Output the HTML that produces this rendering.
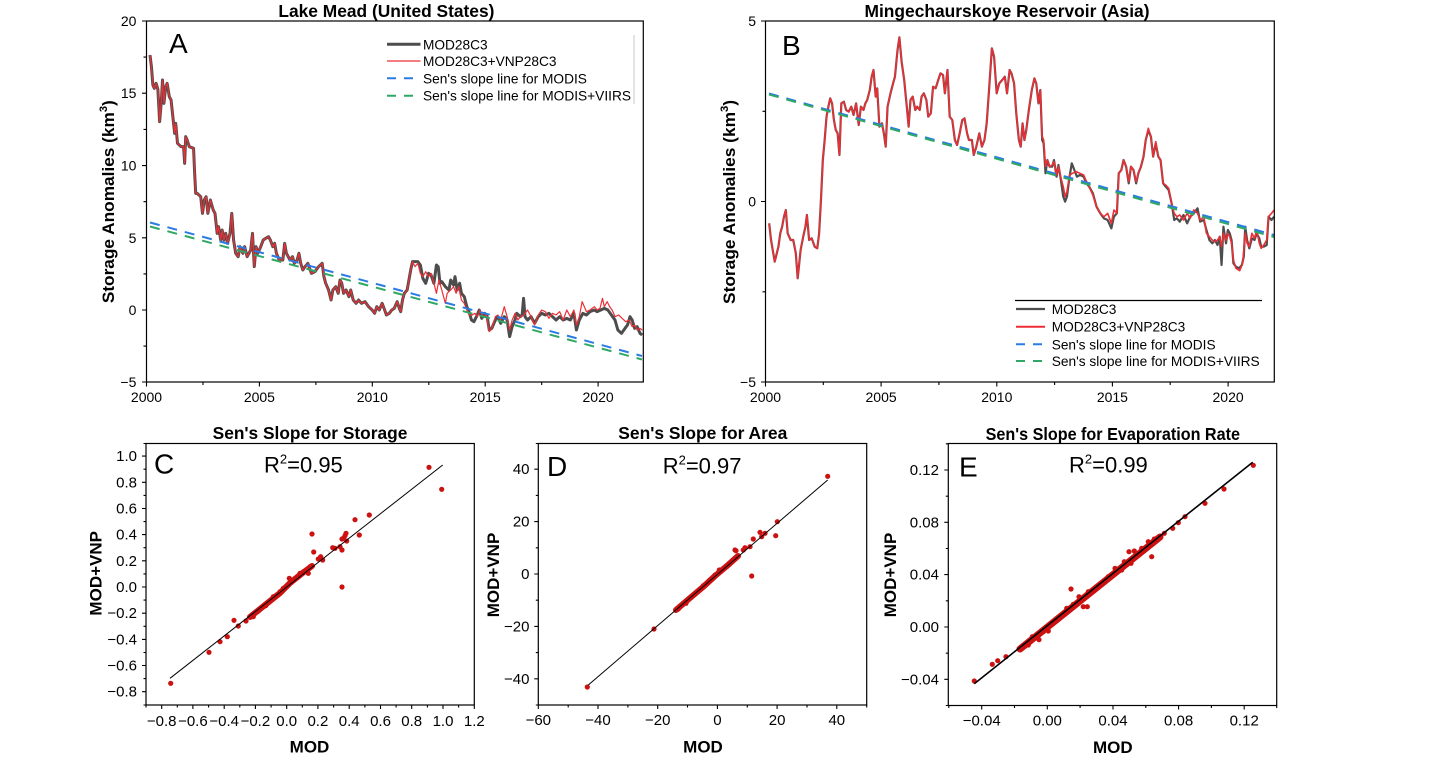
<!DOCTYPE html>
<html><head><meta charset="utf-8"><style>
html,body{margin:0;padding:0;background:#fff;}
svg{display:block;font-family:"Liberation Sans",Arial,sans-serif;}
.t{font-size:14px;fill:#000;}
.tb{font-size:15px;fill:#000;}
.ttl{font-size:17.3px;font-weight:bold;fill:#000;}
.lab{font-size:17px;font-weight:bold;fill:#000;}
.lg{font-size:13.7px;fill:#000;}
.big{font-size:28px;fill:#000;}
.r2{font-size:22px;fill:#000;}
</style></head><body>
<svg width="1430" height="764" viewBox="0 0 1430 764" xmlns="http://www.w3.org/2000/svg">
<rect width="1430" height="764" fill="#fff"/>

<!-- ================= PANEL A ================= -->
<text class="ttl" x="386.4" y="17" text-anchor="middle" textLength="216" lengthAdjust="spacingAndGlyphs">Lake Mead (United States)</text>
<g fill="none" stroke-linejoin="round">
<g transform="translate(90,0) scale(0.35714,0.33333)">
<polyline vector-effect="non-scaling-stroke" stroke="#4d4d4d" stroke-width="3" points="168,165 172,200 176,255 180,265 185,250 190,268 195,365 200,300 203,240 207,310 212,260 216,250 222,290 227,300 232,350 237,400 240,370 245,430 255,440 262,440 265,490 268,410 272,420 278,440 290,445 293,520 296,580 300,580 310,590 315,640 320,600 325,590 330,640 337,600 345,630 350,640 356,700 360,680 366,720 370,690 375,720 380,700 385,730 392,700 397,640 402,720 408,760 415,770 420,740 428,760 433,740 440,770 450,750 455,700 460,800 465,740 470,760 478,740 485,720 492,715 500,710 505,720 512,740 517,730 522,760 530,780 540,780 545,730 550,760 560,780 567,770 572,790 580,780 585,760 590,790 596,810 602,800 610,790 620,820 630,815 640,800 650,790 655,830 660,850 668,870 675,900 680,870 688,860 695,880 700,840 705,850 710,880 717,870 725,890 730,870 737,900 745,910 752,900 760,910 770,905 780,920 790,930 797,940 803,920 810,930 818,910 825,930 830,945 838,940 845,930 852,925 860,905 866,925 870,935 875,900 880,880 888,870 893,840 898,810 903,785 910,785 918,785 925,795 932,835 940,850 948,820 955,825 963,850 970,795 975,800 980,850 985,845 995,860 1005,870 1010,840 1018,855 1022,830 1028,870 1035,850 1040,880 1048,890 1055,920 1060,930 1068,960 1075,965 1082,950 1090,930 1097,955 1105,940 1112,950 1118,990 1125,985 1135,960 1142,950 1150,970 1160,950 1168,960 1175,1010 1182,980 1190,960 1195,940 1205,950 1210,945 1214,895 1218,950 1225,960 1235,950 1245,970 1255,950 1265,940 1275,945 1285,940 1295,950 1305,960 1315,950 1325,960 1335,955 1345,960 1355,940 1362,990 1370,960 1380,940 1390,945 1400,935 1412,930 1420,935 1430,930 1440,925 1450,930 1460,945 1470,960 1478,990 1488,1000 1498,985 1505,975 1512,950 1518,960 1525,985 1532,980 1540,1000 1546,1005"/>
<polyline vector-effect="non-scaling-stroke" stroke="#ec2f35" stroke-width="1.2" points="168,165 172,200 176,255 180,265 185,250 190,268 195,365 200,300 203,240 207,310 212,260 216,250 222,290 227,300 232,350 237,400 240,370 245,430 255,440 262,440 265,490 268,410 272,420 278,440 290,445 293,520 296,580 300,580 310,590 315,640 320,600 325,590 330,640 337,600 345,630 350,640 356,700 360,680 366,720 370,690 375,720 380,700 385,730 392,700 397,640 402,720 408,760 415,770 420,740 428,760 433,740 440,770 450,750 455,700 460,800 465,740 470,760 478,740 485,720 492,715 500,710 505,720 512,740 517,730 522,760 530,780 540,780 545,730 550,760 560,780 567,770 572,790 580,780 585,760 590,790 596,810 602,800 610,790 620,820 630,815 640,800 650,790 655,830 660,850 668,870 675,900 680,870 688,860 695,880 700,840 705,850 710,880 717,870 725,890 730,870 737,900 745,910 752,900 760,910 770,905 780,920 790,930 797,940 803,920 810,930 818,910 825,930 830,945 838,940 845,930 852,925 860,905 866,925 870,935 875,900 880,880 888,870 893,840 898,810 903,785 910,800 918,790 925,820 932,830 940,815 948,830 955,820 963,850 970,880 977,840 985,870 995,910 1000,880 1010,870 1018,860 1025,880 1032,860 1040,900 1048,910 1055,930 1062,945 1070,945 1078,940 1085,950 1092,930 1100,950 1110,945 1118,995 1125,985 1135,950 1142,945 1150,960 1160,920 1168,950 1175,990 1182,960 1190,940 1198,960 1205,950 1215,945 1225,930 1235,950 1245,975 1255,945 1265,930 1275,935 1285,955 1295,940 1305,945 1315,935 1325,960 1335,930 1345,950 1355,930 1362,975 1370,950 1378,905 1390,935 1400,930 1412,920 1420,930 1428,925 1435,895 1440,920 1448,905 1455,920 1462,930 1470,950 1480,945 1490,955 1500,965 1510,960 1518,980 1525,975 1532,990 1540,985 1546,990"/>
</g>
<line x1="150" y1="222.5" x2="642" y2="356" stroke="#2a7be4" stroke-width="2" stroke-dasharray="10 8"/>
<line x1="150" y1="226.5" x2="642" y2="359.5" stroke="#2fa865" stroke-width="2" stroke-dasharray="10 8"/>
</g>
<rect x="146.5" y="21" width="496.8" height="361" fill="none" stroke="#000" stroke-width="1.2"/>
<path stroke="#000" stroke-width="1.1" fill="none" d="M146.5 21h-4.5M146.5 93.2h-4.5M146.5 165.6h-4.5M146.5 237.8h-4.5M146.5 310h-4.5M146.5 382h-4.5M146.5 57.1h-3M146.5 129.4h-3M146.5 201.7h-3M146.5 273.9h-3M146.5 346.1h-3M146.5 382v4.5M259.4 382v4.5M372.3 382v4.5M485.2 382v4.5M598.1 382v4.5M203 382v3M315.9 382v3M428.8 382v3M541.7 382v3"/>
<g class="t" text-anchor="end">
<text x="136.4" y="26">20</text><text x="136.4" y="98.2">15</text><text x="136.4" y="170.6">10</text><text x="136.4" y="242.8">5</text><text x="136.4" y="315">0</text><text x="136.4" y="387">−5</text>
</g>
<g class="t" text-anchor="middle">
<text x="146.5" y="402">2000</text><text x="259.4" y="402">2005</text><text x="372.3" y="402">2010</text><text x="485.2" y="402">2015</text><text x="598.1" y="402">2020</text>
</g>
<text class="lab" transform="translate(114,201.7) rotate(-90)" text-anchor="middle" textLength="203" lengthAdjust="spacingAndGlyphs">Storage Anomalies (km<tspan font-size="11" dy="-7">3</tspan><tspan dy="7">)</tspan></text>
<text class="big" x="169" y="53">A</text>
<!-- legend A -->
<line x1="387" y1="44.3" x2="420.5" y2="44.3" stroke="#4d4d4d" stroke-width="3"/>
<line x1="387" y1="61" x2="420.5" y2="61" stroke="#ec2f35" stroke-width="1.2"/>
<line x1="387" y1="78.3" x2="420.5" y2="78.3" stroke="#2a7be4" stroke-width="2" stroke-dasharray="9 8"/>
<line x1="387" y1="95.7" x2="420.5" y2="95.7" stroke="#2fa865" stroke-width="2" stroke-dasharray="9 8"/>
<g class="lg">
<text x="423" y="49.3">MOD28C3</text>
<text x="423" y="66">MOD28C3+VNP28C3</text>
<text x="423" y="83.3">Sen's slope line for MODIS</text>
<text x="423" y="100.7" textLength="208" lengthAdjust="spacingAndGlyphs">Sen's slope line for MODIS+VIIRS</text>
</g>
<line x1="634" y1="35" x2="634" y2="104" stroke="#c8c8c8" stroke-width="1"/>

<!-- ================= PANEL B ================= -->
<text class="ttl" x="1007" y="17" text-anchor="middle" textLength="285" lengthAdjust="spacingAndGlyphs">Mingechaurskoye Reservoir (Asia)</text>
<g fill="none" stroke-linejoin="round">
<g transform="translate(710,0) scale(0.3699,0.33333)">
<polyline vector-effect="non-scaling-stroke" stroke="#4d4d4d" stroke-width="2.2" points="160,670 165,720 175,785 185,740 190,700 195,680 200,650 205,630 210,700 218,720 225,720 232,760 237,835 245,750 252,710 258,680 262,645 268,720 275,715 283,740 290,745 295,700 300,600 305,480 310,420 315,350 320,320 325,295 330,310 335,360 340,390 345,400 350,465 355,310 362,305 368,330 375,335 382,320 388,345 395,310 402,375 408,320 415,330 420,310 425,300 432,270 437,230 442,210 448,290 452,265 458,380 465,370 470,400 475,440 480,320 488,280 495,250 500,230 507,150 512,112 518,185 525,240 532,320 537,380 542,300 548,290 555,330 560,320 567,330 572,290 578,280 585,300 590,350 597,340 603,260 610,265 617,240 623,220 630,225 635,280 642,210 648,350 655,360 662,420 668,435 675,400 682,360 688,355 695,400 700,420 708,420 713,465 720,440 728,400 735,440 742,420 748,370 755,260 762,145 768,170 775,280 782,250 790,240 797,230 803,280 810,210 815,220 822,250 828,340 835,420 840,440 845,370 850,420 855,390 862,330 870,270 877,235 882,250 888,310 893,270 898,420 902,430 907,520 912,480 918,500 925,500 930,480 937,530 942,495 948,535 955,590 960,605 965,590 972,530 978,490 985,510 992,530 1000,525 1010,530 1018,550 1025,560 1035,580 1045,620 1055,640 1065,655 1075,660 1085,685 1092,650 1100,640 1105,520 1112,510 1118,480 1125,500 1132,550 1138,500 1145,510 1152,550 1158,520 1165,500 1172,470 1178,420 1185,390 1192,410 1198,470 1205,430 1212,470 1218,480 1225,550 1232,560 1240,570 1248,610 1255,660 1262,655 1270,665 1280,645 1290,670 1298,650 1308,640 1318,625 1325,665 1335,660 1342,690 1350,720 1358,730 1365,720 1372,735 1378,710 1383,795 1388,680 1395,730 1400,690 1405,700 1410,720 1415,790 1422,800 1430,805 1438,795 1443,770 1447,680 1452,720 1458,745 1465,715 1472,720 1478,700 1485,715 1490,740 1497,740 1505,735 1510,650 1518,660 1525,650"/>
<polyline vector-effect="non-scaling-stroke" stroke="#ec2f35" stroke-width="1.6" points="160,670 165,720 175,785 185,740 190,700 195,680 200,650 205,630 210,700 218,720 225,720 232,760 237,835 245,750 252,710 258,680 262,645 268,720 275,715 283,740 290,745 295,700 300,600 305,480 310,420 315,350 320,320 325,295 330,310 335,360 340,390 345,400 350,465 355,310 362,305 368,330 375,335 382,320 388,345 395,310 402,375 408,320 415,330 420,310 425,300 432,270 437,230 442,210 448,290 452,265 458,380 465,370 470,400 475,440 480,320 488,280 495,250 500,230 507,150 512,112 518,185 525,240 532,320 537,380 542,300 548,290 555,330 560,320 567,330 572,290 578,280 585,300 590,350 597,340 603,260 610,265 617,240 623,220 630,225 635,280 642,210 648,350 655,360 662,420 668,435 675,400 682,360 688,355 695,400 700,420 708,420 713,465 720,440 728,400 735,440 742,420 748,370 755,260 762,145 768,170 775,280 782,250 790,240 797,230 803,280 810,210 815,220 822,250 828,340 835,420 840,440 845,370 850,420 855,390 862,330 870,270 877,235 882,250 888,310 893,270 898,410 902,420 907,500 912,480 918,500 925,495 930,485 937,525 942,500 948,530 955,560 960,590 965,575 972,525 980,520 990,515 1000,520 1010,525 1018,545 1025,560 1035,585 1045,620 1055,640 1065,650 1075,640 1085,670 1092,630 1100,640 1105,520 1112,510 1118,480 1125,500 1132,545 1138,500 1145,510 1152,545 1158,520 1165,500 1172,470 1178,420 1185,385 1192,410 1198,470 1205,425 1212,470 1218,480 1225,550 1232,555 1240,565 1248,610 1255,640 1262,650 1270,645 1280,660 1290,640 1298,655 1308,630 1318,640 1325,660 1335,650 1342,700 1350,710 1358,720 1365,725 1372,720 1378,710 1383,740 1388,700 1395,720 1400,700 1405,710 1410,730 1415,780 1422,805 1432,812 1440,790 1447,700 1452,730 1458,740 1465,700 1472,715 1478,690 1485,730 1490,745 1497,735 1505,720 1510,650 1518,640 1525,630"/>
</g>
<line x1="769" y1="93.5" x2="1274" y2="235" stroke="#2a7be4" stroke-width="2" stroke-dasharray="10 8"/>
<line x1="769" y1="94.5" x2="1274" y2="237" stroke="#2fa865" stroke-width="2" stroke-dasharray="10 8"/>
</g>
<rect x="765.5" y="21" width="508.8" height="361" fill="none" stroke="#000" stroke-width="1.2"/>
<path stroke="#000" stroke-width="1.1" fill="none" d="M765.5 21h-4.5M765.5 201.5h-4.5M765.5 382h-4.5M765.5 111.3h-3M765.5 291.8h-3M765.5 382v4.5M881.1 382v4.5M996.8 382v4.5M1112.4 382v4.5M1228.1 382v4.5M823.3 382v3M938.9 382v3M1054.6 382v3M1170.2 382v3"/>
<g class="t" text-anchor="end">
<text x="756" y="26">5</text><text x="756" y="206.5">0</text><text x="756" y="387">−5</text>
</g>
<g class="t" text-anchor="middle">
<text x="765.5" y="402">2000</text><text x="881.1" y="402">2005</text><text x="996.8" y="402">2010</text><text x="1112.4" y="402">2015</text><text x="1228.1" y="402">2020</text>
</g>
<text class="lab" transform="translate(735,202) rotate(-90)" text-anchor="middle" textLength="204" lengthAdjust="spacingAndGlyphs">Storage Anomalies (km<tspan font-size="11" dy="-7">3</tspan><tspan dy="7">)</tspan></text>
<text class="big" x="782" y="55">B</text>
<!-- legend B -->
<line x1="1015" y1="300.5" x2="1262" y2="300.5" stroke="#000" stroke-width="1.2"/>
<line x1="1016" y1="309" x2="1045" y2="309" stroke="#4d4d4d" stroke-width="2.2"/>
<line x1="1016" y1="326.7" x2="1045" y2="326.7" stroke="#ec2f35" stroke-width="2"/>
<line x1="1016" y1="344.3" x2="1045" y2="344.3" stroke="#2a7be4" stroke-width="2" stroke-dasharray="9 8"/>
<line x1="1016" y1="361" x2="1045" y2="361" stroke="#2fa865" stroke-width="2" stroke-dasharray="9 8"/>
<g class="lg">
<text x="1051.7" y="314">MOD28C3</text>
<text x="1051.7" y="331.7">MOD28C3+VNP28C3</text>
<text x="1051.7" y="349.3">Sen's slope line for MODIS</text>
<text x="1051.7" y="366" textLength="208" lengthAdjust="spacingAndGlyphs">Sen's slope line for MODIS+VIIRS</text>
</g>

<!-- ================= PANEL C ================= -->
<text class="ttl" x="310" y="439" text-anchor="middle" textLength="194.7" lengthAdjust="spacingAndGlyphs">Sen's Slope for Storage</text>
<rect x="146" y="443.5" width="328.3" height="261.5" fill="none" stroke="#000" stroke-width="1.2"/>
<path stroke="#000" stroke-width="1.1" fill="none" d="M161.7 705v4M192.9 705v4M224.2 705v4M255.4 705v4M286.7 705v4M317.9 705v4M349.2 705v4M380.5 705v4M411.7 705v4M443 705v4M474.3 705v4M146 705v2.5M177.3 705v2.5M208.6 705v2.5M239.8 705v2.5M271.1 705v2.5M302.3 705v2.5M333.6 705v2.5M364.9 705v2.5M396.1 705v2.5M427.4 705v2.5M458.6 705v2.5M146 456.1h-4M146 482.3h-4M146 508.5h-4M146 534.6h-4M146 560.8h-4M146 587h-4M146 613.2h-4M146 639.4h-4M146 665.5h-4M146 691.7h-4M146 443.5h-2.5M146 469.2h-2.5M146 495.4h-2.5M146 521.6h-2.5M146 547.7h-2.5M146 573.9h-2.5M146 600.1h-2.5M146 626.3h-2.5M146 652.5h-2.5M146 678.6h-2.5M146 705h-2.5"/>
<g class="tb" text-anchor="end">
<text x="137" y="461.1">1.0</text><text x="137" y="487.3">0.8</text><text x="137" y="513.5">0.6</text><text x="137" y="539.6">0.4</text><text x="137" y="565.8">0.2</text><text x="137" y="592">0.0</text><text x="137" y="618.2">−0.2</text><text x="137" y="644.4">−0.4</text><text x="137" y="670.5">−0.6</text><text x="137" y="696.7">−0.8</text>
</g>
<g class="tb" text-anchor="middle">
<text x="161.7" y="726">−0.8</text><text x="192.9" y="726">−0.6</text><text x="224.2" y="726">−0.4</text><text x="255.4" y="726">−0.2</text><text x="286.7" y="726">0.0</text><text x="317.9" y="726">0.2</text><text x="349.2" y="726">0.4</text><text x="380.5" y="726">0.6</text><text x="411.7" y="726">0.8</text><text x="443" y="726">1.0</text><text x="474.3" y="726">1.2</text>
</g>
<text class="lab" x="309.5" y="752.3" text-anchor="middle">MOD</text>
<text class="lab" transform="translate(101.5,573.3) rotate(-90)" text-anchor="middle">MOD+VNP</text>
<text class="big" x="154" y="473.3">C</text>
<text class="r2" x="264" y="472.3">R<tspan font-size="13" dy="-9">2</tspan><tspan dy="9">=0.95</tspan></text>
<polyline points="250,617 265,605 280,593 290,583 300,575 312,566" fill="none" stroke="#cc1111" stroke-width="6" stroke-linecap="round" stroke-linejoin="round"/>
<g fill="#cc1111">
<circle cx="170.7" cy="683.3" r="2.6"/><circle cx="209" cy="652.3" r="2.6"/><circle cx="220" cy="641.7" r="2.6"/><circle cx="227.3" cy="636.7" r="2.6"/><circle cx="234" cy="620.3" r="2.6"/><circle cx="238.3" cy="626" r="2.6"/><circle cx="246" cy="621" r="2.6"/><circle cx="252.7" cy="614.3" r="2.6"/><circle cx="253.3" cy="616.7" r="2.6"/><circle cx="258.3" cy="611" r="2.6"/><circle cx="265.7" cy="605.7" r="2.6"/><circle cx="268.3" cy="602.3" r="2.6"/><circle cx="273.3" cy="596.7" r="2.6"/><circle cx="276.7" cy="595" r="2.6"/><circle cx="280" cy="591.7" r="2.6"/><circle cx="283.3" cy="588.3" r="2.6"/><circle cx="289.3" cy="578.3" r="2.6"/><circle cx="296" cy="578.3" r="2.6"/><circle cx="300" cy="573.3" r="2.6"/><circle cx="303.3" cy="571.7" r="2.6"/><circle cx="308.3" cy="573.3" r="2.6"/><circle cx="310" cy="566.7" r="2.6"/><circle cx="312" cy="534" r="2.6"/><circle cx="313.7" cy="552" r="2.6"/><circle cx="318.3" cy="559" r="2.6"/><circle cx="320.7" cy="556.7" r="2.6"/><circle cx="322.7" cy="560" r="2.6"/><circle cx="332.7" cy="547.7" r="2.6"/><circle cx="335" cy="548.3" r="2.6"/><circle cx="340" cy="546.7" r="2.6"/><circle cx="342" cy="550" r="2.6"/><circle cx="342" cy="539" r="2.6"/><circle cx="343.3" cy="538.3" r="2.6"/><circle cx="345" cy="535.7" r="2.6"/><circle cx="346" cy="533.3" r="2.6"/><circle cx="346.7" cy="541" r="2.6"/><circle cx="342" cy="587" r="2.6"/><circle cx="355" cy="519.7" r="2.6"/><circle cx="359.3" cy="535" r="2.6"/><circle cx="369.3" cy="515" r="2.6"/><circle cx="429" cy="467.3" r="2.6"/><circle cx="441.7" cy="489.3" r="2.6"/>
</g>
<line x1="170" y1="678.3" x2="442.7" y2="465" stroke="#000" stroke-width="1"/>

<!-- ================= PANEL D ================= -->
<text class="ttl" x="702.8" y="439" text-anchor="middle" textLength="169" lengthAdjust="spacingAndGlyphs">Sen's Slope for Area</text>
<rect x="538.3" y="443.5" width="328.4" height="261.5" fill="none" stroke="#000" stroke-width="1.2"/>
<path stroke="#000" stroke-width="1.1" fill="none" d="M538.3 705v4M598 705v4M657.7 705v4M717.4 705v4M777.1 705v4M836.8 705v4M568.2 705v2.5M627.9 705v2.5M687.5 705v2.5M747.3 705v2.5M807 705v2.5M866.7 705v2.5M538.3 469.2h-4M538.3 521.6h-4M538.3 574h-4M538.3 626.4h-4M538.3 678.8h-4M538.3 443.5h-2.5M538.3 495.4h-2.5M538.3 547.8h-2.5M538.3 600.2h-2.5M538.3 652.6h-2.5M538.3 705h-2.5"/>
<g class="tb" text-anchor="end">
<text x="529.5" y="474.2">40</text><text x="529.5" y="526.6">20</text><text x="529.5" y="579">0</text><text x="529.5" y="631.4">−20</text><text x="529.5" y="683.8">−40</text>
</g>
<g class="tb" text-anchor="middle">
<text x="538.3" y="725">−60</text><text x="598" y="725">−40</text><text x="657.7" y="725">−20</text><text x="717.4" y="725">0</text><text x="777.1" y="725">20</text><text x="836.8" y="725">40</text>
</g>
<text class="lab" x="703" y="752.3" text-anchor="middle">MOD</text>
<text class="lab" transform="translate(499,575) rotate(-90)" text-anchor="middle">MOD+VNP</text>
<text class="big" x="547" y="476">D</text>
<text class="r2" x="662.7" y="473.3">R<tspan font-size="13" dy="-9">2</tspan><tspan dy="9">=0.97</tspan></text>
<polyline points="676,610 690,598 703,587 715,576 728,565 738,556" fill="none" stroke="#cc1111" stroke-width="6" stroke-linecap="round" stroke-linejoin="round"/>
<g fill="#cc1111">
<circle cx="587.3" cy="687" r="2.6"/><circle cx="654" cy="629" r="2.6"/><circle cx="678.3" cy="609" r="2.6"/><circle cx="686" cy="603.3" r="2.6"/><circle cx="686.7" cy="601" r="2.6"/><circle cx="693.3" cy="595" r="2.6"/><circle cx="698.3" cy="591" r="2.6"/><circle cx="703.3" cy="585.7" r="2.6"/><circle cx="710" cy="580" r="2.6"/><circle cx="715" cy="575" r="2.6"/><circle cx="719.3" cy="570" r="2.6"/><circle cx="723.3" cy="569" r="2.6"/><circle cx="726.7" cy="566.7" r="2.6"/><circle cx="731.7" cy="561.7" r="2.6"/><circle cx="735" cy="550" r="2.6"/><circle cx="736" cy="550.7" r="2.6"/><circle cx="743.3" cy="550" r="2.6"/><circle cx="745" cy="547.7" r="2.6"/><circle cx="750" cy="546.7" r="2.6"/><circle cx="753.3" cy="539" r="2.6"/><circle cx="760" cy="532.3" r="2.6"/><circle cx="761.7" cy="536.7" r="2.6"/><circle cx="765" cy="533.3" r="2.6"/><circle cx="775.7" cy="535.7" r="2.6"/><circle cx="777.3" cy="521.7" r="2.6"/><circle cx="751.7" cy="576" r="2.6"/><circle cx="827.7" cy="476.3" r="2.6"/>
</g>
<line x1="588.3" y1="685" x2="827.7" y2="480" stroke="#000" stroke-width="1"/>

<!-- ================= PANEL E ================= -->
<text class="ttl" x="1112.8" y="440" text-anchor="middle" textLength="254.3" lengthAdjust="spacingAndGlyphs">Sen's Slope for Evaporation Rate</text>
<rect x="948.3" y="443.5" width="328.4" height="262" fill="none" stroke="#000" stroke-width="1.2"/>
<path stroke="#000" stroke-width="1.1" fill="none" d="M981.7 705.5v4M1047.3 705.5v4M1113 705.5v4M1178.6 705.5v4M1244.2 705.5v4M948.8 705.5v2.5M1014.5 705.5v2.5M1080.1 705.5v2.5M1145.8 705.5v2.5M1211.4 705.5v2.5M1276.7 705.5v2.5M948.3 470h-4M948.3 522.3h-4M948.3 574.6h-4M948.3 627h-4M948.3 679.3h-4M948.3 443.8h-2.5M948.3 496.2h-2.5M948.3 548.5h-2.5M948.3 600.8h-2.5M948.3 653.2h-2.5M948.3 705.5h-2.5"/>
<g class="tb" text-anchor="end">
<text x="939" y="475">0.12</text><text x="939" y="527.3">0.08</text><text x="939" y="579.6">0.04</text><text x="939" y="632">0.00</text><text x="939" y="684.3">−0.04</text>
</g>
<g class="tb" text-anchor="middle">
<text x="981.7" y="725.5">−0.04</text><text x="1047.3" y="725.5">0.00</text><text x="1113" y="725.5">0.04</text><text x="1178.6" y="725.5">0.08</text><text x="1244.2" y="725.5">0.12</text>
</g>
<text class="lab" x="1112.8" y="753" text-anchor="middle">MOD</text>
<text class="lab" transform="translate(896,575) rotate(-90)" text-anchor="middle">MOD+VNP</text>
<text class="big" x="959" y="476.7">E</text>
<text class="r2" x="1069" y="472.3">R<tspan font-size="13" dy="-9">2</tspan><tspan dy="9">=0.99</tspan></text>
<polyline points="1020,649 1040,633 1060,617 1080,601 1100,585 1120,569 1140,553 1160,537" fill="none" stroke="#cc1111" stroke-width="7" stroke-linecap="round" stroke-linejoin="round"/>
<g fill="#cc1111">
<circle cx="974.3" cy="681" r="2.6"/><circle cx="992.3" cy="664.3" r="2.6"/><circle cx="997.7" cy="660.7" r="2.6"/><circle cx="1006" cy="656.7" r="2.6"/><circle cx="1028.3" cy="645" r="2.6"/><circle cx="1032.3" cy="636.7" r="2.6"/><circle cx="1039" cy="639.7" r="2.6"/><circle cx="1043.3" cy="631.7" r="2.6"/><circle cx="1048.3" cy="631" r="2.6"/><circle cx="1050" cy="625.7" r="2.6"/><circle cx="1057.7" cy="619" r="2.6"/><circle cx="1066.7" cy="608.3" r="2.6"/><circle cx="1071" cy="589" r="2.6"/><circle cx="1073.3" cy="604.3" r="2.6"/><circle cx="1079" cy="596.7" r="2.6"/><circle cx="1083.3" cy="606.7" r="2.6"/><circle cx="1087.3" cy="606.7" r="2.6"/><circle cx="1088.3" cy="591.7" r="2.6"/><circle cx="1095" cy="588.3" r="2.6"/><circle cx="1101.7" cy="583.3" r="2.6"/><circle cx="1108.3" cy="576.7" r="2.6"/><circle cx="1115" cy="568.3" r="2.6"/><circle cx="1121.7" cy="570" r="2.6"/><circle cx="1124.3" cy="561.7" r="2.6"/><circle cx="1129" cy="551.7" r="2.6"/><circle cx="1131" cy="563.3" r="2.6"/><circle cx="1134.3" cy="551" r="2.6"/><circle cx="1141.7" cy="548.3" r="2.6"/><circle cx="1148.3" cy="541.7" r="2.6"/><circle cx="1151.7" cy="556.7" r="2.6"/><circle cx="1154.3" cy="539" r="2.6"/><circle cx="1164.3" cy="533.3" r="2.6"/><circle cx="1172.7" cy="528.3" r="2.6"/><circle cx="1178.3" cy="522.7" r="2.6"/><circle cx="1185" cy="516.7" r="2.6"/><circle cx="1205" cy="503.3" r="2.6"/><circle cx="1224" cy="489" r="2.6"/><circle cx="1253.3" cy="465.3" r="2.6"/>
</g>
<line x1="974.3" y1="683.7" x2="1252.7" y2="462.3" stroke="#000" stroke-width="1.6"/>
</svg>
</body></html>
